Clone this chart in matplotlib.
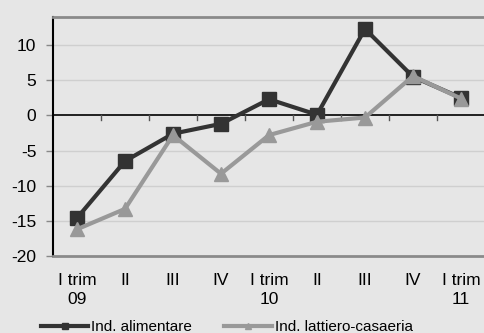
import matplotlib
matplotlib.use("Agg")
import matplotlib.pyplot as plt
from matplotlib.lines import Line2D

plt.rcParams['font.family'] = ['Liberation Sans', 'DejaVu Sans']
plt.rcParams['axes.unicode_minus'] = False

quarters = ["I trim\n09", "II", "III", "IV", "I trim\n10", "II", "III", "IV", "I trim\n11"]
ind_alimentare = [-14.6, -6.5, -2.6, -1.2, 2.3, 0.1, 12.3, 5.5, 2.5]
ind_lattiero = [-16.2, -13.3, -2.8, -8.3, -2.8, -0.9, -0.3, 5.6, 2.4]

bg = "#e6e6e6"
dark = "#333333"
light = "#999999"

fig = plt.figure(figsize=(4.85, 3.33), dpi=100, facecolor=bg)
ax = fig.add_axes([53/485, 1-256/333, 432/485, (256-17)/333], facecolor=bg)

x = list(range(len(quarters)))
ax.plot(x, ind_alimentare, color=dark, lw=3, marker="s", ms=9.5, zorder=3)
ax.plot(x, ind_lattiero, color=light, lw=3, marker="^", ms=10, zorder=4)

ax.set_xlim(-0.5, len(quarters) - 0.5)
ax.set_ylim(-20, 14)
ax.set_yticks([-20, -15, -10, -5, 0, 5, 10])
for v in [-15, -10, -5, 5, 10]:
    ax.axhline(v, color="#cfcfcf", lw=1, zorder=1)
ax.axhline(0, color="black", lw=1.2, zorder=2)

# category boundary ticks hanging below the zero line
for b in range(1, len(quarters)):
    ax.plot([b - 0.5, b - 0.5], [0, -0.7], color="#555555", lw=1, zorder=2, clip_on=False)

ax.set_xticks(x)
ax.set_xticklabels(quarters, fontsize=12.5, linespacing=1.4)
ax.tick_params(axis="x", length=0, pad=12)
ax.tick_params(axis="y", length=5, width=1, color="#888888", labelsize=12.5, pad=7)

ax.spines["right"].set_visible(False)
ax.spines["left"].set_color("black")
ax.spines["left"].set_linewidth(1.5)
ax.spines["top"].set_color("#8a8a8a")
ax.spines["top"].set_linewidth(2)
ax.spines["bottom"].set_color("#8a8a8a")
ax.spines["bottom"].set_linewidth(2)

handles = [
    Line2D([], [], color=dark, lw=3, marker="s", ms=5),
    Line2D([], [], color=light, lw=3, marker="^", ms=5),
]
fig.legend(handles, ["Ind. alimentare", "Ind. lattiero-casaeria"], loc="center left",
           bbox_to_anchor=(41/485, 1-327/333), ncol=2, frameon=False, fontsize=11,
           handlelength=3.1, handletextpad=0.2, columnspacing=2.1, borderaxespad=0,
           borderpad=0)

fig.savefig("out.png", dpi=100, facecolor=bg)
